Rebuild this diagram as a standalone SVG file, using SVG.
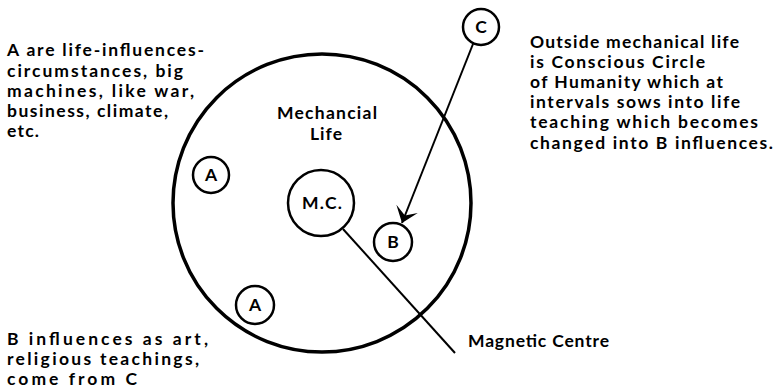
<svg xmlns="http://www.w3.org/2000/svg" width="779" height="392" viewBox="0 0 779 392">
<style>
  .t { font-family: "Lato", "Liberation Sans", sans-serif; font-weight: bold; font-size: 17.5px; fill: #000; }
  .lbl { font-family: "Lato", "Liberation Sans", sans-serif; font-weight: bold; font-size: 17.5px; fill: #000; text-anchor: middle; }
  .big { fill: none; stroke: #000; stroke-width: 3.5; }
  .node { fill: #fff; stroke: #000; stroke-width: 2.5; }
  .conn { fill: none; stroke: #000; stroke-width: 2; }
</style>
<defs>
  <marker id="barb" markerUnits="userSpaceOnUse" viewBox="-17 -13 18 26" markerWidth="18" markerHeight="26" refX="0" refY="0" orient="auto">
    <path d="M0,0 L-15,-11 L-8,0 L-15,12 Z" fill="#000"/>
  </marker>
</defs>
<rect width="779" height="392" fill="#fff"/>

<g id="mechanical-life">
  <circle class="big" cx="322" cy="203" r="149"/>
  <text class="lbl" x="327" y="119" textLength="100" lengthAdjust="spacing">Mechancial</text>
  <text class="lbl" x="326" y="140" textLength="32" lengthAdjust="spacing">Life</text>
</g>

<g id="connectors">
  <line class="conn" x1="473" y1="44" x2="402" y2="223" marker-end="url(#barb)"/>
  <line class="conn" x1="343" y1="229" x2="455" y2="353"/>
</g>

<g id="node-mc">
  <circle class="node" cx="321" cy="203" r="33"/>
  <text class="lbl" x="322" y="209" textLength="40" lengthAdjust="spacing">M.C.</text>
</g>
<g id="node-b">
  <circle class="node" cx="393" cy="242" r="19"/>
  <text class="lbl" x="393" y="248">B</text>
</g>
<g id="node-a1">
  <circle class="node" cx="211" cy="175" r="18"/>
  <text class="lbl" x="211" y="181">A</text>
</g>
<g id="node-a2">
  <circle class="node" cx="255" cy="305" r="19"/>
  <text class="lbl" x="255" y="311">A</text>
</g>
<g id="node-c">
  <circle class="node" cx="481" cy="27" r="18"/>
  <text class="lbl" x="481" y="33">C</text>
</g>

<g id="note-a">
  <text class="t" x="7" y="56" textLength="197" lengthAdjust="spacing">A are life-influences-</text>
  <text class="t" x="7" y="77" textLength="176" lengthAdjust="spacing">circumstances, big</text>
  <text class="t" x="7" y="97" textLength="187" lengthAdjust="spacing">machines, like war,</text>
  <text class="t" x="7" y="117" textLength="161" lengthAdjust="spacing">business, climate,</text>
  <text class="t" x="7" y="137" textLength="32" lengthAdjust="spacing">etc.</text>
</g>
<g id="note-b">
  <text class="t" x="7" y="345" textLength="201" lengthAdjust="spacing">B influences as art,</text>
  <text class="t" x="7" y="365" textLength="192" lengthAdjust="spacing">religious teachings,</text>
  <text class="t" x="7" y="385" textLength="130" lengthAdjust="spacing">come from C</text>
</g>
<g id="note-c">
  <text class="t" x="530" y="48" textLength="209" lengthAdjust="spacing">Outside mechanical life</text>
  <text class="t" x="530" y="68" textLength="175" lengthAdjust="spacing">is Conscious Circle</text>
  <text class="t" x="530" y="88" textLength="193" lengthAdjust="spacing">of Humanity which at</text>
  <text class="t" x="530" y="108" textLength="210" lengthAdjust="spacing">intervals sows into life</text>
  <text class="t" x="530" y="128" textLength="228" lengthAdjust="spacing">teaching which becomes</text>
  <text class="t" x="530" y="149" textLength="243" lengthAdjust="spacing">changed into B influences.</text>
</g>
<g id="label-magnetic">
  <text class="t" x="468" y="347" textLength="141" lengthAdjust="spacing">Magnetic Centre</text>
</g>
</svg>
